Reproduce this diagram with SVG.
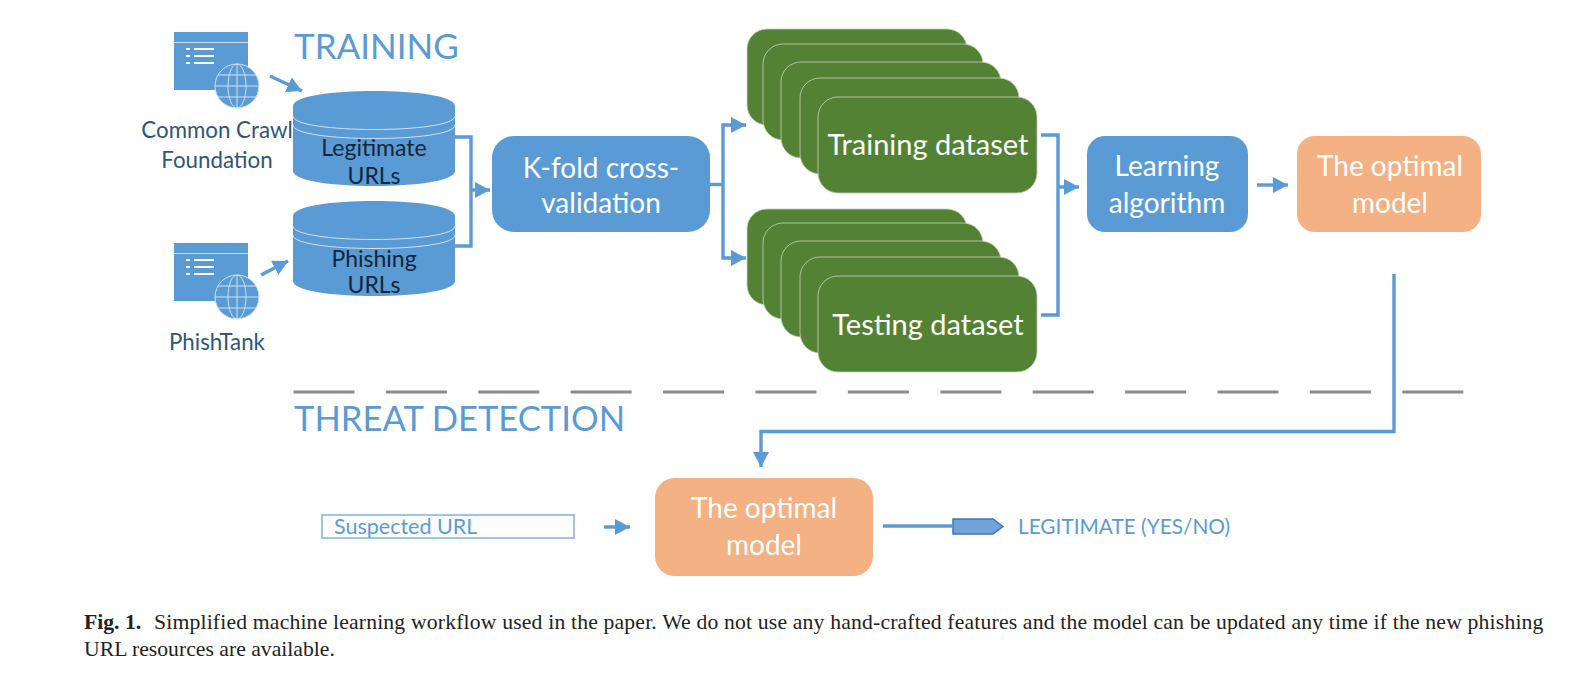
<svg xmlns="http://www.w3.org/2000/svg" width="1592" height="678" viewBox="0 0 1592 678">
<style>
text{font-family:"Lato","Carlito","Liberation Sans",sans-serif}
.c{text-anchor:middle}
.head{font-size:35px;fill:#5b9bd5}
.src{font-size:22.300px;fill:#2f5578}
.db{font-size:23px;fill:#12263a}
.box{font-size:28px;fill:#fff}
.set{font-size:29px;fill:#fff}
.cap{font-family:"Liberation Serif",serif;font-size:21.700px;fill:#222}
.blue{fill:#5b9bd5}
.org{fill:#f4b183}
.grn{fill:#548235;stroke:#c5d3bb;stroke-width:.8}
.wl{fill:none;stroke:#cfe0f1;stroke-width:1}
.cn{fill:none;stroke:#5b9bd5;stroke-width:3.400}
</style>
<defs>
<marker id="a" markerUnits="userSpaceOnUse" markerWidth="16" markerHeight="16" refX="15" refY="8" orient="auto"><path d="M0 0L15 8L0 16z" fill="#5b9bd5"/></marker>
<g id="web">
<rect x="174" width="74" height="58" class="blue"/>
<path d="M174 10.500H248" class="wl"/>
<path d="M186 17h4M186 24h4M186 31h4M194 17h20M194 24h20M194 31h20" fill="none" stroke="#fff" stroke-width="1.800"/>
<circle cx="237" cy="54" r="22" class="blue" stroke="#cfe0f1"/>
<ellipse cx="237" cy="54" rx="9" ry="22" class="wl"/>
<path d="M237 32V76M215 54H259M218 43H256M218 65H256" class="wl"/>
</g>
<g id="cyl">
<path d="M293 15C293 -5 455 -5 455 15V80C455 100 293 100 293 80z" class="blue"/>
<path d="M293 25C293 43 455 43 455 25M293 34C293 52 455 52 455 34" class="wl"/>
</g>
</defs>

<text x="294" y="59" class="head">TRAINING</text>
<text x="294" y="431" class="head" style="font-size:34.600px">THREAT DETECTION</text>

<g id="commoncrawl"><use href="#web" y="32"/><text x="217" y="138" class="src c">Common Crawl</text><text x="217" y="168" class="src c">Foundation</text></g>
<g id="phishtank"><use href="#web" y="243"/><text x="217" y="350" class="src c">PhishTank</text></g>
<g id="legit"><use href="#cyl" y="91"/><text x="374" y="156" class="db c">Legitimate</text><text x="374" y="184" class="db c">URLs</text></g>
<g id="phish"><use href="#cyl" y="201"/><text x="374" y="267" class="db c">Phishing</text><text x="374" y="293" class="db c">URLs</text></g>

<g id="kfold"><rect x="492" y="136" width="218" height="96" rx="22" class="blue"/><text x="601" y="178" class="box c">K-fold cross-</text><text x="601" y="213" class="box c">validation</text></g>

<g id="train">
<rect x="747" y="29" width="220" height="96" rx="20" class="grn" stroke="none"/>
<rect x="763" y="44" width="220" height="96" rx="20" class="grn"/>
<rect x="781" y="62" width="220" height="96" rx="20" class="grn"/>
<rect x="800" y="78" width="219" height="96" rx="20" class="grn"/>
<rect x="818" y="97" width="219" height="96" rx="20" class="grn"/>
<text x="928" y="155" class="set c">Training dataset</text>
</g>
<g id="test">
<rect x="747" y="209" width="220" height="96" rx="20" class="grn" stroke="none"/>
<rect x="763" y="223" width="220" height="96" rx="20" class="grn"/>
<rect x="781" y="241" width="220" height="96" rx="20" class="grn"/>
<rect x="800" y="257" width="219" height="96" rx="20" class="grn"/>
<rect x="818" y="276" width="219" height="96" rx="20" class="grn"/>
<text x="928" y="335" class="set c">Testing dataset</text>
</g>

<g id="learn"><rect x="1087" y="136" width="161" height="96" rx="18" class="blue"/><text x="1167" y="176" class="box c">Learning</text><text x="1167" y="213" class="box c">algorithm</text></g>
<g id="opt1"><rect x="1297" y="136" width="184" height="96" rx="18" class="org"/><text x="1390" y="176" class="box c">The optimal</text><text x="1390" y="213" class="box c">model</text></g>
<g id="opt2"><rect x="655" y="478" width="218" height="98" rx="20" class="org"/><text x="764" y="518" class="box c">The optimal</text><text x="764" y="555" class="box c">model</text></g>

<g id="suspected"><rect x="322" y="515" width="252" height="23" fill="#fff" stroke="#7fb2e0" stroke-width="1.500"/><text x="334" y="534" font-size="21.500" fill="#5b9bd5">Suspected URL</text></g>
<g id="output"><path d="M953 519H993L1003 526.500L993 534H953z" fill="#6fa3da" stroke="#3f76ad" stroke-width="1.500"/><text x="1018" y="534" font-size="20.800" fill="#5b9bd5">LEGITIMATE (YES/NO)</text></g>

<g id="connectors">
<path d="M270 76L302 91" class="cn" marker-end="url(#a)"/>
<path d="M261 275L288 261" class="cn" marker-end="url(#a)"/>
<path d="M455 137H471V246H455M471 190H490" class="cn" marker-end="url(#a)"/>
<path d="M710 184.500H723" class="cn"/>
<path d="M746 125H723V258H746" class="cn"/>
<path d="M731 117L746 125L731 133zM731 250L746 258L731 266z" class="blue"/>
<path d="M1041 135H1058V315H1041M1058 187H1079" class="cn" marker-end="url(#a)"/>
<path d="M1257 185H1288" class="cn" marker-end="url(#a)"/>
<path d="M1394 274V431.500H761V467" class="cn" marker-end="url(#a)"/>
<path d="M604 527H630" class="cn" marker-end="url(#a)"/>
<path d="M883 526H953" class="cn"/>
<path d="M293.500 392H1464" fill="none" stroke="#8a8a8a" stroke-width="3" stroke-dasharray="61 31.400"/>
</g>

<text class="cap" x="84" y="629"><tspan font-weight="bold">Fig. 1.</tspan><tspan x="154" letter-spacing=".165">Simplified machine learning workflow used in the paper. We do not use any hand-crafted features and the model can be updated any time if the new phishing</tspan></text>
<text class="cap" x="84" y="656">URL resources are available.</text>
</svg>
